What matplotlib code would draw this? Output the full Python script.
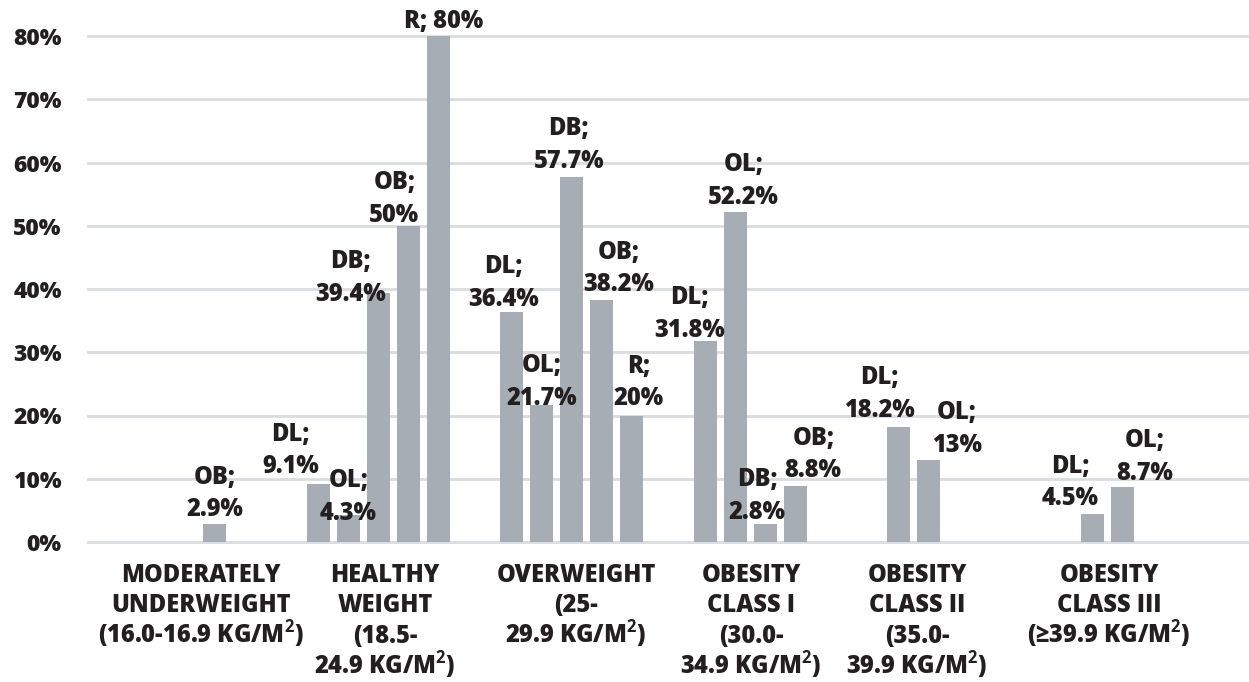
import matplotlib
matplotlib.use("Agg")
import matplotlib.pyplot as plt
import numpy as np

plt.rcParams['font.family'] = ['Open Sans', 'DejaVu Sans']
plt.rcParams['font.weight'] = 'bold'
plt.rcParams['mathtext.fontset'] = 'custom'
plt.rcParams['mathtext.rm'] = 'Open Sans:bold'
plt.rcParams['mathtext.bf'] = 'Open Sans:bold'

nan = np.nan
categories = [
    ["MODERATELY", "UNDERWEIGHT", "(16.0-16.9 KG/M$^{2}$)"],
    ["HEALTHY", "WEIGHT", "(18.5-", "24.9 KG/M$^{2}$)"],
    ["OVERWEIGHT", "(25-", "29.9 KG/M$^{2}$)"],
    ["OBESITY", "CLASS I", "(30.0-", "34.9 KG/M$^{2}$)"],
    ["OBESITY", "CLASS II", "(35.0-", "39.9 KG/M$^{2}$)"],
    ["OBESITY", "CLASS III", "(\u226539.9 KG/M$^{2}$)"],
]
series = ["DL", "OL", "DB", "OB", "R"]
dl = [nan, 9.1, 36.4, 31.8, 18.2, 4.5]
ol = [nan, 4.3, 21.7, 52.2, 13, 8.7]
db = [nan, 39.4, 57.7, 2.8, nan, nan]
ob = [2.9, 50, 38.2, 8.8, nan, nan]
r = [nan, 80, 20, nan, nan, nan]
values = [dl, ol, db, ob, r]
yticks = [0, 10, 20, 30, 40, 50, 60, 70, 80]

# label nudges in pixels (dx, dy) from the top centre of each bar
label_shift = {
    ("OB", 0): (0, 30),
    ("DL", 1): (-28, 34), ("OL", 1): (0, 18), ("DB", 1): (-28, 15),
    ("OB", 1): (-14, 27), ("R", 1): (5, 14),
    ("DL", 2): (-8, 29), ("OL", 2): (0, 23), ("DB", 2): (-3, 32),
    ("OB", 2): (17, 32), ("R", 2): (7, 33),
    ("DL", 3): (-16, 27), ("OL", 3): (8, 31), ("DB", 3): (-8, 28),
    ("OB", 3): (18, 32),
    ("DL", 4): (-19, 33), ("OL", 4): (28, 31),
    ("DL", 5): (-22, 31), ("OL", 5): (22, 30),
}
# where the category captions sit, relative to the group centre
caption_shift = [0.083, 0.034, 0.022, -0.073, -0.215, -0.223]

bar_color = "#a7adb5"
grid_color = "#d9dce0"
text_color = "#231f20"
slot = 0.155
width = 0.118
px = 0.72  # points per pixel at dpi 100

fig = plt.figure(figsize=(12.49, 6.82), dpi=100)
ax = fig.add_axes([88 / 1249, 140 / 682, 1 - 88 / 1249, 506 / 682])

x = np.arange(len(categories))
for j, (name, vals) in enumerate(zip(series, values)):
    vals = np.array(vals, dtype=float)
    xs = x + (j - 2) * slot
    ok = ~np.isnan(vals)
    ax.bar(xs[ok], vals[ok], width=width, color=bar_color, zorder=2)
    for i in np.where(ok)[0]:
        v = vals[i]
        dx, dy = label_shift[(name, i)]
        txt = f"{name}; {v:g}%" if name == "R" and v >= 80 else f"{name};\n{v:g}%"
        ax.annotate(txt, xy=(xs[i], v), xytext=(dx * px, dy * px),
                    textcoords="offset points", ha="center", va="center",
                    fontsize=17, fontweight="heavy", color=text_color,
                    linespacing=1.4, zorder=3, annotation_clip=False)

for t in yticks:
    ax.axhline(t, color=grid_color, lw=2, zorder=1, clip_on=False)

# category captions, one line at a time so the pitch stays even
for i, lines in enumerate(categories):
    for k, line in enumerate(lines):
        ax.annotate(line, xy=(x[i] + caption_shift[i], 0),
                    xycoords=("data", "axes fraction"),
                    xytext=(0, -(40 + 30.5 * k) * px), textcoords="offset points",
                    ha="center", va="baseline", fontsize=17, fontweight="heavy",
                    color=text_color, annotation_clip=False)

ax.set_xlim(-0.5, 5.5)
ax.set_ylim(0, 80)
ax.set_yticks(yticks)
ax.set_yticklabels([f"{t}%" for t in yticks], fontsize=16.5, fontweight="heavy",
                   color=text_color)
ax.tick_params(axis="y", length=0, pad=19)
ax.set_xticks([])
for s in ax.spines.values():
    s.set_visible(False)

fig.savefig("out.png", dpi=100)
